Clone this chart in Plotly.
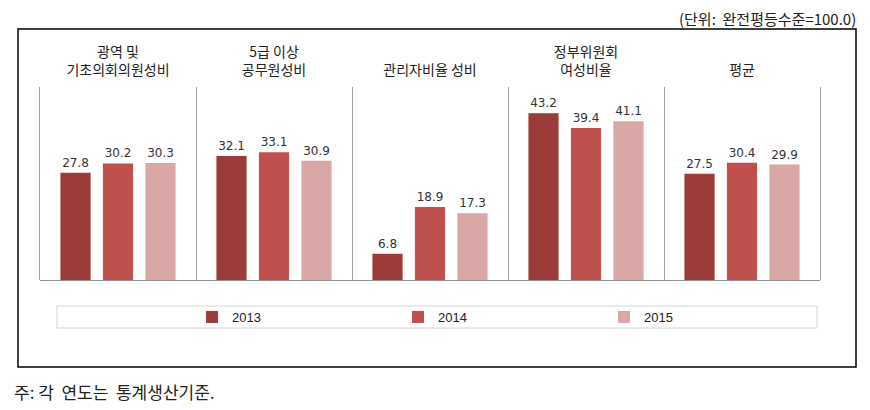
import plotly.graph_objects as go

categories = ["광역 및<br>기초의회의원성비", "5급 이상<br>공무원성비", "관리자비율 성비", "정부위원회<br>여성비율", "평균"]
years = ["2013", "2014", "2015"]
values_2013 = [27.8, 32.1, 6.8, 43.2, 27.5]
values_2014 = [30.2, 33.1, 18.9, 39.4, 30.4]
values_2015 = [30.3, 30.9, 17.3, 41.1, 29.9]
colors = ["#9B3C3B", "#C0504D", "#D9A7A6"]

unit_text = "(단위:  완전평등수준=100.0)"
note_text = "주: 각  연도는  통계생산기준."

fig = go.Figure()
for name, vals, col in zip(years, [values_2013, values_2014, values_2015], colors):
    fig.add_trace(go.Bar(
        x=categories, y=vals, name=name, marker=dict(color=col, line=dict(width=0)),
        text=[f"{v:.1f}" for v in vals], textposition="outside",
        textfont=dict(family="DejaVu Sans", size=12, color="#333333"),
        cliponaxis=False,
    ))

# page body has an 8px margin; lay out in page pixels and compensate
OFF = 8
W, H = 870 - OFF, 410 - OFF
L, T = 40 - OFF, 87 - OFF
R = W - (820 - OFF)
B = H - (280 - OFF)
pw = W - L - R
ph = H - T - B

def px(x):
    return (x - OFF - L) / pw

def py(y):
    return (H - B - (y - OFF)) / ph

fig.update_layout(
    width=W, height=H,
    margin=dict(l=L, r=R, t=T, b=B),
    paper_bgcolor="white", plot_bgcolor="white",
    barmode="group", bargap=0.183, bargroupgap=0.29,
    font=dict(family="Noto Sans CJK KR", color="#222222"),
    xaxis=dict(side="top", tickson="boundaries", showgrid=True, gridcolor="#A0A0A0", gridwidth=1,
               ticks="", showline=False, zeroline=False, ticklabelstandoff=8,
               tickfont=dict(family="Noto Sans CJK KR", size=14, color="#222222")),
    yaxis=dict(range=[0, 50], showticklabels=False, showgrid=False, showline=True, mirror=True,
               linecolor="#A0A0A0", linewidth=1, zeroline=True, zerolinecolor="#909090", zerolinewidth=1),
    legend=dict(orientation="h", x=px(192), xanchor="left", y=py(317), yanchor="middle",
                entrywidth=161, entrywidthmode="pixels", bgcolor="rgba(0,0,0,0)",
                font=dict(family="Liberation Sans", size=13, color="#222222")),
    showlegend=True,
)

# outer frame and legend box
fig.add_shape(type="rect", xref="paper", yref="paper", x0=px(18), x1=px(856), y0=py(367), y1=py(29),
              line=dict(color="#000000", width=1.5), layer="below")
fig.add_shape(type="rect", xref="paper", yref="paper", x0=px(57), x1=px(817), y0=py(328), y1=py(306),
              line=dict(color="#D4D4D4", width=1), layer="below")

fig.add_annotation(text=unit_text, xref="paper", yref="paper", x=px(858), y=py(18), xanchor="right",
                   yanchor="middle", showarrow=False,
                   font=dict(family="Noto Sans CJK KR", size=15, color="#222222"))
fig.add_annotation(text=note_text, xref="paper", yref="paper", x=px(12), y=py(392), xanchor="left",
                   yanchor="middle", showarrow=False,
                   font=dict(family="Noto Sans CJK KR", size=17, color="#222222"))

fig.write_html("out.html")
